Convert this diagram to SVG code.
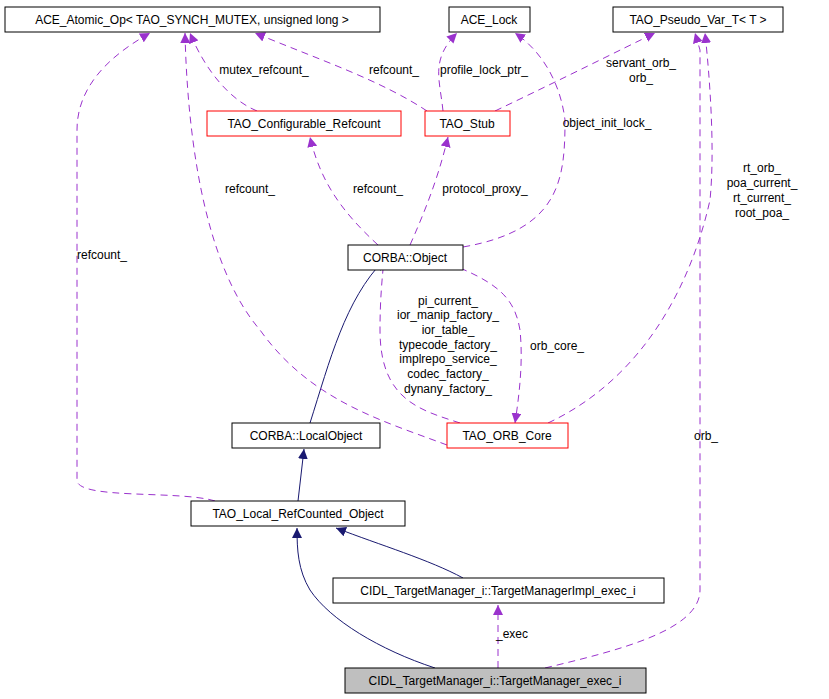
<svg xmlns="http://www.w3.org/2000/svg" width="829" height="699" viewBox="0 0 829 699">
<style>
text{font-family:"Liberation Sans",Arial,sans-serif;font-size:12px;fill:#000}
.n rect{fill:#fff;stroke:#000;stroke-width:1}
.n.r rect{stroke:#f00}
.n.g rect{fill:#bfbfbf}
.n text{text-anchor:middle}
.u{fill:none;stroke:#9a32cd;stroke-dasharray:7,5}
.i{fill:none;stroke:#191970}
.l{text-anchor:middle}
</style>
<defs>
<marker id="pa" viewBox="0 0 10 10" refX="10" refY="5" markerWidth="10" markerHeight="10" markerUnits="userSpaceOnUse" orient="auto"><path d="M0,0L10,5L0,10z" fill="#9a32cd"/></marker>
<marker id="na" viewBox="0 0 10 10" refX="10" refY="5" markerWidth="10" markerHeight="10" markerUnits="userSpaceOnUse" orient="auto"><path d="M0,0L10,5L0,10z" fill="#191970"/></marker>
</defs>
<g id="connectors">
<path class="i" marker-end="url(#na)" d="M310,423 C330,360 345,300 384,260"/>
<path class="i" marker-end="url(#na)" d="M298,501 L304,449"/>
<path class="i" marker-end="url(#na)" d="M435,668 C380,650 330,620 310,590 C298,570 297,550 297,528"/>
<path class="i" marker-end="url(#na)" d="M463,578 C430,560 380,545 336,528"/>
<path class="u" marker-end="url(#pa)" d="M498,668 L498,605"/>
<path class="u" marker-end="url(#pa)" d="M545,668 C620,650 700,630 700,590 L700,50 L695,33"/>
<path class="u" marker-end="url(#pa)" d="M215,501 C180,490 77,500 77,480 L77,130 C77,80 120,50 150,33"/>
<path class="u" marker-end="url(#pa)" d="M447,445 C380,420 310,400 260,330 C200,260 187,120 185,33"/>
<path class="u" marker-end="url(#pa)" d="M460,423 C420,410 380,400 380,330 C380,300 382,280 384,259"/>
<path class="u" marker-end="url(#pa)" d="M460,268 C500,285 515,300 520,330 C523,360 520,390 515,423"/>
<path class="u" marker-end="url(#pa)" d="M548,423 C640,380 690,290 710,200 C715,150 710,80 705,33"/>
<path class="u" marker-end="url(#pa)" d="M378,245 C340,210 320,180 310,137"/>
<path class="u" marker-end="url(#pa)" d="M410,245 C430,200 440,170 448,137"/>
<path class="u" marker-end="url(#pa)" d="M463,247 C560,230 565,180 565,120 C560,80 540,50 515,33"/>
<path class="u" marker-end="url(#pa)" d="M257,111 C230,100 205,70 190,33"/>
<path class="u" marker-end="url(#pa)" d="M427,111 C380,80 320,60 255,33"/>
<path class="u" marker-end="url(#pa)" d="M443,111 C440,80 430,60 457,33"/>
<path class="u" marker-end="url(#pa)" d="M495,111 C560,80 620,50 655,33"/>
<text class="l" x="102" y="259">refcount_</text>
<text class="l" x="250" y="193">refcount_</text>
<text class="l" x="264" y="74">mutex_refcount_</text>
<text class="l" x="394" y="74">refcount_</text>
<text class="l" x="484" y="74">profile_lock_ptr_</text>
<text class="l" x="641" y="67">servant_orb_</text>
<text class="l" x="641" y="82">orb_</text>
<text class="l" x="378" y="193">refcount_</text>
<text class="l" x="485" y="193">protocol_proxy_</text>
<text class="l" x="607" y="127">object_init_lock_</text>
<text class="l" x="762" y="172">rt_orb_</text>
<text class="l" x="762" y="187">poa_current_</text>
<text class="l" x="762" y="202">rt_current_</text>
<text class="l" x="762" y="217">root_poa_</text>
<text class="l" x="448" y="305">pi_current_</text>
<text class="l" x="448" y="319">ior_manip_factory_</text>
<text class="l" x="448" y="334">ior_table_</text>
<text class="l" x="448" y="349">typecode_factory_</text>
<text class="l" x="448" y="363">implrepo_service_</text>
<text class="l" x="448" y="378">codec_factory_</text>
<text class="l" x="448" y="393">dynany_factory_</text>
<text class="l" x="557" y="350">orb_core_</text>
<text class="l" x="706" y="440">orb_</text>
<text class="l" x="512" y="638">_exec</text>
</g>
<g id="ace_atomic" class="n"><rect x="5" y="7" width="375" height="25"/><text x="192" y="24">ACE_Atomic_Op&lt; TAO_SYNCH_MUTEX, unsigned long &gt;</text></g>
<g id="ace_lock" class="n"><rect x="449" y="7" width="81" height="25"/><text x="489" y="24">ACE_Lock</text></g>
<g id="pseudo" class="n"><rect x="613" y="7" width="170" height="25"/><text x="698" y="24">TAO_Pseudo_Var_T&lt; T &gt;</text></g>
<g id="conf_ref" class="n r"><rect x="207" y="111" width="194" height="25"/><text x="304" y="128">TAO_Configurable_Refcount</text></g>
<g id="stub" class="n r"><rect x="425" y="111" width="85" height="25"/><text x="467" y="128">TAO_Stub</text></g>
<g id="corba_object" class="n"><rect x="348" y="245" width="115" height="25"/><text x="405" y="262">CORBA::Object</text></g>
<g id="local_object" class="n"><rect x="232" y="423" width="148" height="25"/><text x="306" y="440">CORBA::LocalObject</text></g>
<g id="orb_core" class="n r"><rect x="447" y="423" width="121" height="25"/><text x="507" y="440">TAO_ORB_Core</text></g>
<g id="local_ref" class="n"><rect x="191" y="501" width="214" height="25"/><text x="298" y="518">TAO_Local_RefCounted_Object</text></g>
<g id="impl" class="n"><rect x="333" y="578" width="331" height="25"/><text x="498" y="595">CIDL_TargetManager_i::TargetManagerImpl_exec_i</text></g>
<g id="exec_i" class="n g"><rect x="345" y="668" width="301" height="25"/><text x="495" y="685">CIDL_TargetManager_i::TargetManager_exec_i</text></g>
</svg>
